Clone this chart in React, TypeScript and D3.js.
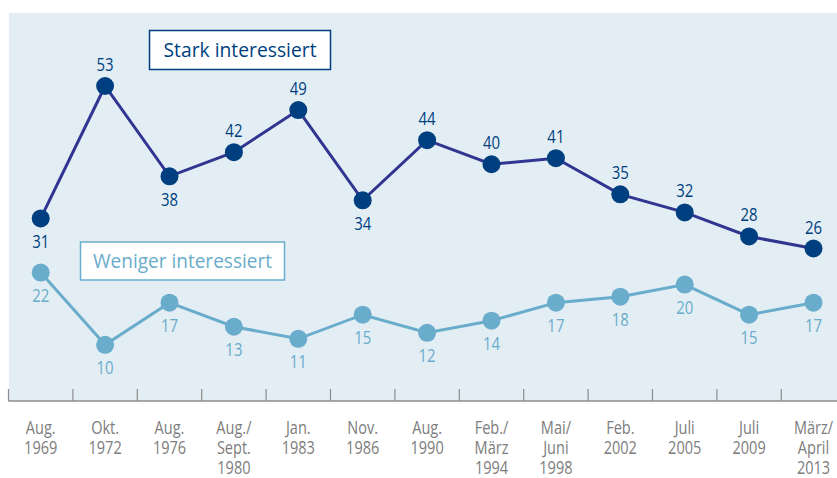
import React from "react";
import * as d3 from "d3";

const categories: string[][] = [
  ["Aug.", "1969"],
  ["Okt.", "1972"],
  ["Aug.", "1976"],
  ["Aug./", "Sept.", "1980"],
  ["Jan.", "1983"],
  ["Nov.", "1986"],
  ["Aug.", "1990"],
  ["Feb./", "März", "1994"],
  ["Mai/", "Juni", "1998"],
  ["Feb.", "2002"],
  ["Juli", "2005"],
  ["Juli", "2009"],
  ["März/", "April", "2013"],
];
const stark = [31, 53, 38, 42, 49, 34, 44, 40, 41, 35, 32, 28, 26];
const starkBelow = [true, false, true, false, false, true, false, false, false, false, false, false, false];
const weniger = [22, 10, 17, 13, 11, 15, 12, 14, 17, 18, 20, 15, 17];

const W = 837;
const H = 478;
const FONT = "'Open Sans', 'Noto Sans', sans-serif";
const DARK = "#003f7f";
const DARKLINE = "#2f3590";
const LIGHT = "#6aaccb";
const BG = "#e3eef4";
const AXIS = "#8c8c8c";
const TEXT = "#7d7d7d";
const SX = 0.83;

function CText(props: { x: number; y: number; size: number; fill: string; children: React.ReactNode }) {
  return (
    <text
      transform={`translate(${props.x},${props.y}) scale(${SX},1)`}
      textAnchor="middle"
      fontFamily={FONT}
      fontSize={props.size}
      fill={props.fill}
    >
      {props.children}
    </text>
  );
}

export default function App() {
  const left = 8.5;
  const bandW = 64.4;
  const x = d3
    .scaleBand<number>()
    .domain(d3.range(categories.length))
    .range([left, left + bandW * categories.length]);
  const y = d3.scaleLinear().domain([0, 53]).range([405, 86]);
  const axisY = 401;
  const cx = (i: number) => (x(i) as number) + x.bandwidth() / 2;
  const line = d3
    .line<number>()
    .x((_, i) => cx(i))
    .y((d) => y(d));
  const baselines = [433.5, 454, 474];

  return (
    <svg width={W} height={H} style={{ position: "absolute", left: 0, top: 0 }}>
      <rect x={9} y={13} width={W - 9} height={axisY - 13} fill={BG} />
      {/* axis */}
      <line x1={left} x2={W} y1={axisY} y2={axisY} stroke={AXIS} strokeWidth={1.5} />
      {d3.range(categories.length).map((i) => (
        <line
          key={"t" + i}
          x1={x(i) as number}
          x2={x(i) as number}
          y1={axisY - 12}
          y2={axisY}
          stroke={AXIS}
          strokeWidth={1.2}
        />
      ))}
      {categories.map((lines, i) =>
        lines.map((l, j) => (
          <CText key={"c" + i + "-" + j} x={cx(i)} y={baselines[j]} size={17.5} fill={TEXT}>
            {l}
          </CText>
        ))
      )}
      {/* lines */}
      <path d={line(weniger) || ""} fill="none" stroke={LIGHT} strokeWidth={3} />
      <path d={line(stark) || ""} fill="none" stroke={DARKLINE} strokeWidth={3} />
      {weniger.map((v, i) => (
        <g key={"w" + i}>
          <circle cx={cx(i)} cy={y(v)} r={9} fill={LIGHT} />
          <CText x={cx(i)} y={y(v) + 29.5} size={18} fill={LIGHT}>
            {v}
          </CText>
        </g>
      ))}
      {stark.map((v, i) => (
        <g key={"s" + i}>
          <circle cx={cx(i)} cy={y(v)} r={9} fill={DARK} />
          <CText x={cx(i)} y={starkBelow[i] ? y(v) + 29.5 : y(v) - 15} size={18} fill={DARK}>
            {v}
          </CText>
        </g>
      ))}
      {/* legends */}
      <rect x={149.5} y={30.5} width={181} height={39} fill="#ffffff" stroke={DARK} strokeWidth={1.5} />
      <text x={240} y={57} textAnchor="middle" fontFamily={FONT} fontSize={19.5} fill={DARK} textLength={153} lengthAdjust="spacingAndGlyphs">
        Stark interessiert
      </text>
      <rect x={80.5} y={242} width={204} height={38} fill="#ffffff" stroke={LIGHT} strokeWidth={1.5} />
      <text x={182.5} y={268} textAnchor="middle" fontFamily={FONT} fontSize={19.5} fill={LIGHT} textLength={179} lengthAdjust="spacingAndGlyphs">
        Weniger interessiert
      </text>
    </svg>
  );
}
